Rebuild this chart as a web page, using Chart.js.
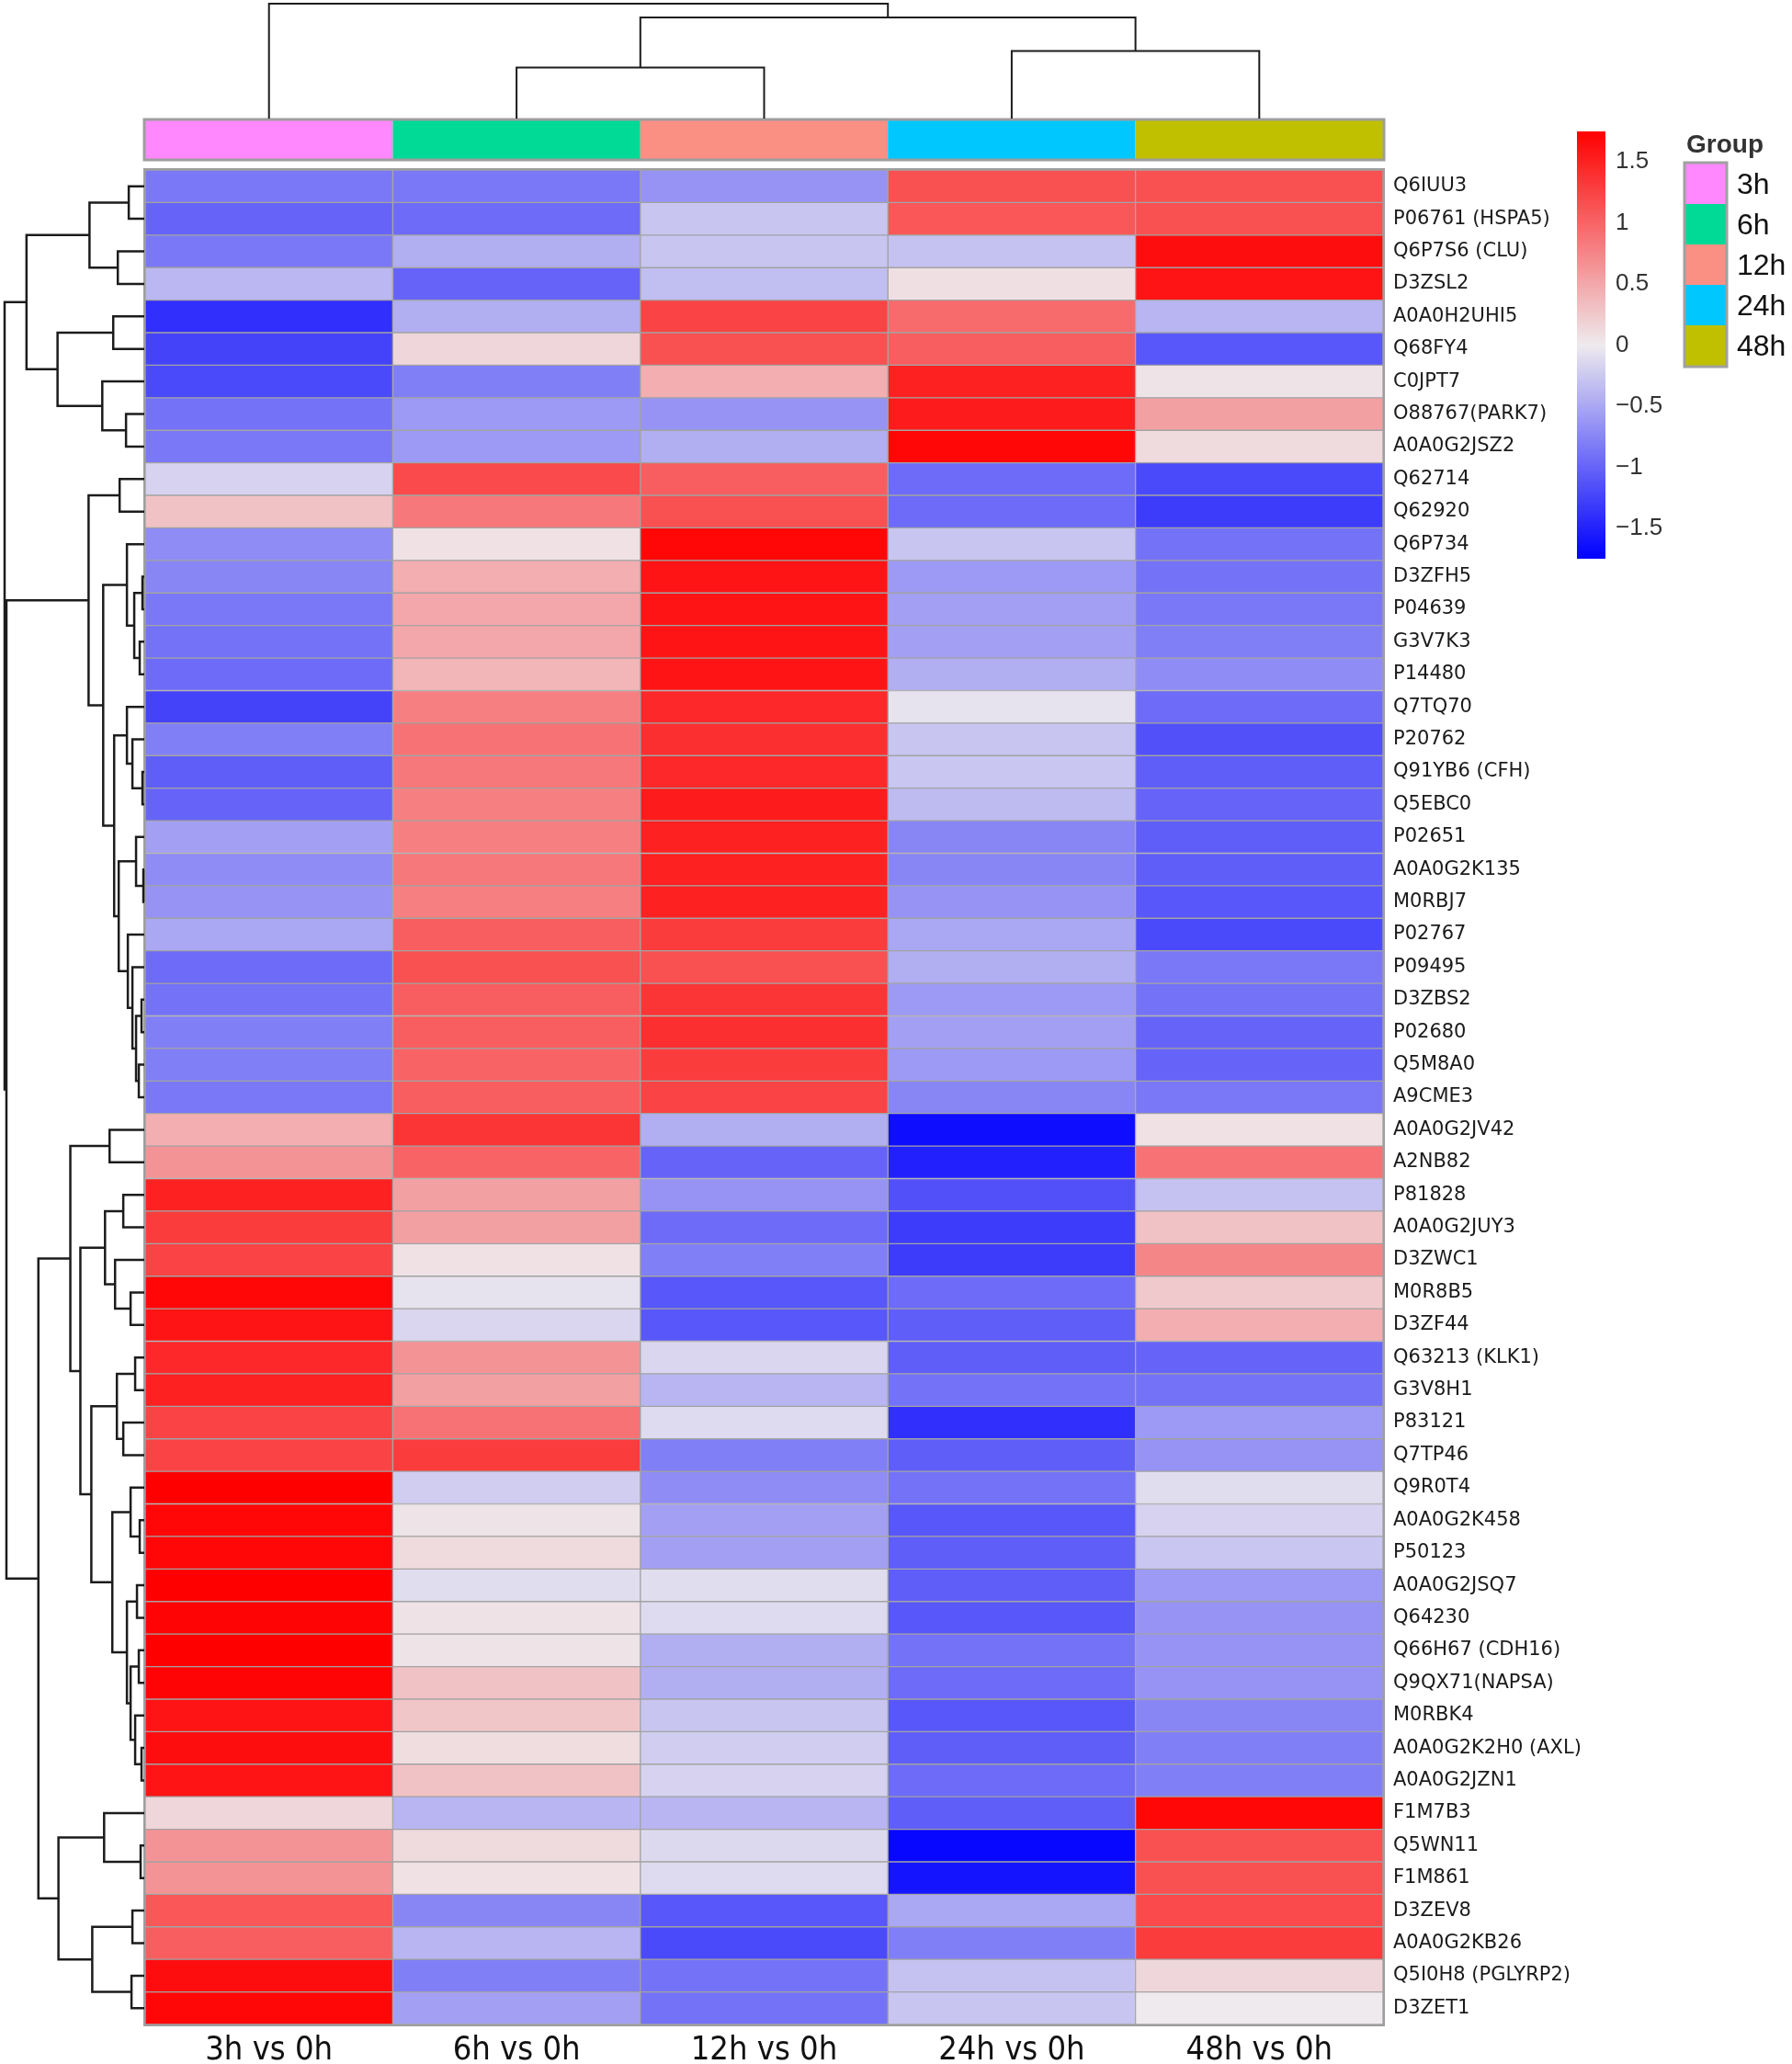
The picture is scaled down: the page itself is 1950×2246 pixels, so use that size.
<!DOCTYPE html>
<html>
<head>
<meta charset="utf-8">
<script src="https://cdn.jsdelivr.net/npm/chart.js@4.4.1/dist/chart.umd.min.js"></script>
<style>
  html, body { margin: 0; padding: 0; background: #fff; }
  #wrap { width: 1950px; height: 2246px; position: relative; }
</style>
</head>
<body>
<div id="wrap"><canvas id="heat"></canvas></div>
<script>
// proteins, in dendrogram order (top to bottom)
const rowLabels = ['Q6IUU3', 'P06761 (HSPA5)', 'Q6P7S6 (CLU)', 'D3ZSL2', 'A0A0H2UHI5', 'Q68FY4', 'C0JPT7',
    'O88767(PARK7)', 'A0A0G2JSZ2', 'Q62714', 'Q62920', 'Q6P734', 'D3ZFH5', 'P04639', 'G3V7K3', 'P14480',
    'Q7TQ70', 'P20762', 'Q91YB6 (CFH)', 'Q5EBC0', 'P02651', 'A0A0G2K135', 'M0RBJ7', 'P02767', 'P09495',
    'D3ZBS2', 'P02680', 'Q5M8A0', 'A9CME3', 'A0A0G2JV42', 'A2NB82', 'P81828', 'A0A0G2JUY3', 'D3ZWC1',
    'M0R8B5', 'D3ZF44', 'Q63213 (KLK1)', 'G3V8H1', 'P83121', 'Q7TP46', 'Q9R0T4', 'A0A0G2K458', 'P50123',
    'A0A0G2JSQ7', 'Q64230', 'Q66H67 (CDH16)', 'Q9QX71(NAPSA)', 'M0RBK4', 'A0A0G2K2H0 (AXL)', 'A0A0G2JZN1',
    'F1M7B3', 'Q5WN11', 'F1M861', 'D3ZEV8', 'A0A0G2KB26', 'Q5I0H8 (PGLYRP2)', 'D3ZET1'];

const colLabels = ['3h vs 0h', '6h vs 0h', '12h vs 0h', '24h vs 0h', '48h vs 0h'];
const groupNames = ['3h', '6h', '12h', '24h', '48h'];
const groupColors = ['#FF88FF', '#00DA96', '#FA8F84', '#00C8FF', '#C0C000'];

// scaled values per column
const h3 = [-0.85, -1.0, -0.85, -0.38, -1.4, -1.25, -1.2, -0.9, -0.85, -0.18,
    0.3, -0.7, -0.75, -0.85, -0.9, -0.95, -1.25, -0.8, -1.05, -1.0,
    -0.55, -0.7, -0.65, -0.5, -0.95, -0.9, -0.8, -0.8, -0.85, 0.45,
    0.65, 1.5, 1.3, 1.25, 1.7, 1.6, 1.45, 1.5, 1.25, 1.25,
    1.75, 1.7, 1.7, 1.75, 1.72, 1.75, 1.72, 1.6, 1.65, 1.6,
    0.15, 0.65, 0.65, 1.1, 1.05, 1.65, 1.7];
const h6 = [-0.85, -0.95, -0.45, -1.0, -0.45, 0.15, -0.8, -0.6, -0.6, 1.2,
    0.85, 0.07, 0.45, 0.5, 0.5, 0.4, 0.8, 0.9, 0.85, 0.8,
    0.8, 0.85, 0.8, 1.05, 1.15, 1.05, 1.05, 1.0, 1.05, 1.35,
    1.0, 0.55, 0.55, 0.07, -0.05, -0.15, 0.65, 0.55, 0.9, 1.3,
    -0.22, 0.05, 0.12, -0.1, 0.06, 0.05, 0.3, 0.27, 0.1, 0.3,
    -0.4, 0.12, 0.07, -0.75, -0.4, -0.8, -0.55];
const h12 = [-0.65, -0.28, -0.28, -0.33, 1.25, 1.15, 0.45, -0.65, -0.45, 1.05,
    1.15, 1.7, 1.6, 1.6, 1.6, 1.6, 1.45, 1.4, 1.45, 1.55,
    1.5, 1.5, 1.5, 1.3, 1.15, 1.35, 1.4, 1.3, 1.25, -0.45,
    -1.0, -0.65, -0.95, -0.8, -1.1, -1.1, -0.15, -0.4, -0.12, -0.8,
    -0.7, -0.55, -0.55, -0.1, -0.12, -0.45, -0.45, -0.28, -0.22, -0.18,
    -0.4, -0.13, -0.12, -1.1, -1.2, -0.9, -0.9];
const h24 = [1.15, 1.1, -0.3, 0.08, 0.95, 1.05, 1.5, 1.55, 1.7, -0.95,
    -0.95, -0.28, -0.6, -0.55, -0.55, -0.45, -0.05, -0.28, -0.27, -0.35,
    -0.75, -0.75, -0.65, -0.5, -0.45, -0.6, -0.55, -0.6, -0.75, -1.65,
    -1.5, -1.15, -1.3, -1.3, -0.95, -1.05, -1.05, -0.9, -1.4, -1.05,
    -0.9, -1.1, -1.05, -1.05, -1.1, -0.9, -0.95, -1.1, -1.05, -0.95,
    -1.05, -1.7, -1.6, -0.5, -0.8, -0.3, -0.28];
const h48 = [1.15, 1.15, 1.65, 1.6, -0.4, -1.1, 0.05, 0.55, 0.12, -1.2,
    -1.3, -0.9, -0.9, -0.85, -0.8, -0.7, -0.95, -1.15, -1.05, -1.0,
    -1.05, -1.05, -1.1, -1.2, -0.85, -0.9, -1.0, -1.0, -0.85, 0.07,
    0.9, -0.3, 0.3, 0.75, 0.25, 0.45, -1.0, -0.9, -0.6, -0.65,
    -0.1, -0.18, -0.27, -0.6, -0.65, -0.65, -0.65, -0.75, -0.8, -0.8,
    1.7, 1.15, 1.15, 1.2, 1.3, 0.15, 0.0];

// colour key
const keyMin = -1.75;
const keyMax = 1.75;
const keyTicks = [1.5, 1, 0.5, 0, -0.5, -1, -1.5];

// clustering trees: [height, left, right], a plain number is a leaf index
const rowTree = [153,
    [129, [60, [17, 0, 1], [29, 2, 3]], [95, [34, 4, 5], [46, 6, [20, 7, 8]]]],
    [151,
        [61, [27, 9, 10],
            [45, [19, 11, [11, [2, 12, 13], [5, 14, 15]]],
                [33, [19, 16, [13, 17, [2, 18, 19]]],
                    [28, [9, 20, [1, 21, 22]], [18, 23, [13, 24, [9, [3, 25, 26], [6, 27, 28]]]]]]]],
        [116,
            [81, [38, 29, 30],
                [70, [43, [23, 31, 32], [32, 33, [15, 34, 35]]],
                    [58, [30, [10, 36, 37], [23, 38, 39]],
                        [35, [15, 40, [5, 41, 42]], [19, [8, 43, 44], [15, [6, 45, 46], [10, 47, [3, 48, 49]]]]]]]],
            [94, [44, 50, [4, 51, 52]], [57, [13, 53, 54], [14, 55, 56]]]]]];
const colTree = [124, 0, [109, [55, 1, 2], [73, 3, 4]]];

function colorFor(v) {
    const t = Math.max(-1, Math.min(1, v / keyMax));
    const mid = [238, 234, 238];
    const end = t < 0 ? [0, 0, 255] : [255, 0, 0];
    const a = Math.abs(t);
    const c = mid.map((m, i) => Math.round(m + (end[i] - m) * a));
    return 'rgb(' + c.join(',') + ')';
}

// walks a tree, draws the elbows, returns position and height of the node
function drawTree(ctx, node, leafPos, heightPos, horizontal) {
    if (typeof node === 'number') {
        return { pos: leafPos(node), h: 0 };
    }
    const a = drawTree(ctx, node[1], leafPos, heightPos, horizontal);
    const b = drawTree(ctx, node[2], leafPos, heightPos, horizontal);
    const pts = [[heightPos(a.h), a.pos], [heightPos(node[0]), a.pos],
                 [heightPos(node[0]), b.pos], [heightPos(b.h), b.pos]];
    ctx.beginPath();
    pts.forEach((p, i) => {
        const x = horizontal ? p[0] : p[1];
        const y = horizontal ? p[1] : p[0];
        if (i === 0) ctx.moveTo(x, y); else ctx.lineTo(x, y);
    });
    ctx.stroke();
    return { pos: (a.pos + b.pos) / 2, h: node[0] };
}

const decor = {
    id: 'decor',
    afterDatasetsDraw(chart) {
        const ctx = chart.ctx;
        const area = chart.chartArea;
        const xs = chart.scales.x;
        const ys = chart.scales.y;
        ctx.save();

        // frame of the heatmap
        ctx.strokeStyle = '#9e9e9e';
        ctx.lineWidth = 2;
        ctx.strokeRect(area.left - 1, area.top - 1, area.right - area.left + 2, area.bottom - area.top + 2);

        // row dendrogram
        ctx.strokeStyle = '#1c1c1c';
        ctx.lineWidth = 2.5;
        ctx.lineJoin = 'miter';
        const rootLeft = 5;
        drawTree(ctx, rowTree, i => ys.getPixelForValue(i),
            h => area.left - 1 - h / rowTree[0] * (area.left - 1 - rootLeft), true);

        // group annotation bar
        const annTop = area.top - 54;
        const annBot = area.top - 12;
        groupColors.forEach((c, i) => {
            const x0 = xs.getPixelForValue(i);
            const x1 = xs.getPixelForValue(i + 1);
            ctx.fillStyle = c;
            ctx.fillRect(x0, annTop, x1 - x0, annBot - annTop);
        });
        ctx.strokeStyle = '#9e9e9e';
        ctx.lineWidth = 3;
        ctx.strokeRect(area.left - 1, annTop - 1, area.right - area.left + 2, annBot - annTop + 2);

        // column dendrogram
        ctx.strokeStyle = '#1c1c1c';
        ctx.lineWidth = 2;
        const topY = 4;
        drawTree(ctx, colTree, i => xs.getPixelForValue(i + 0.5),
            h => annTop - 2 - h / colTree[0] * (annTop - 2 - topY), false);

        // colour key
        const kx = 1716, kw = 31, kTop = 143, kBot = 608;
        const ky = v => kTop + (keyMax - v) / (keyMax - keyMin) * (kBot - kTop);
        for (let y = kTop; y < kBot; y++) {
            const v = keyMax - (y - kTop + 0.5) / (kBot - kTop) * (keyMax - keyMin);
            ctx.fillStyle = colorFor(v);
            ctx.fillRect(kx, y, kw, 1);
        }
        ctx.fillStyle = '#333';
        ctx.font = '26px "Liberation Sans", Arial, sans-serif';
        ctx.textAlign = 'left';
        ctx.textBaseline = 'middle';
        keyTicks.forEach(t => {
            const s = String(Math.abs(t));
            ctx.fillText((t < 0 ? '\u2212' : '') + s, kx + kw + 11, ky(t));
        });

        // group legend
        const gx = 1834, gTop = 178, gSize = 44;
        ctx.font = 'bold 28px "Liberation Sans", Arial, sans-serif';
        ctx.fillStyle = '#333';
        ctx.fillText('Group', gx + 1, 158);
        groupColors.forEach((c, i) => {
            ctx.fillStyle = c;
            ctx.fillRect(gx, gTop + i * gSize, gSize, gSize);
        });
        ctx.strokeStyle = '#a0a0a0';
        ctx.lineWidth = 3;
        ctx.strokeRect(gx - 1, gTop - 1, gSize + 2, gSize * groupColors.length + 2);
        ctx.fillStyle = '#111';
        ctx.font = '32px "Liberation Sans", Arial, sans-serif';
        groupNames.forEach((g, i) => {
            ctx.fillText(g, gx + gSize + 12, gTop + i * gSize + gSize / 2 + 2);
        });
        ctx.restore();
    }
};

const columns = [h3, h6, h12, h24, h48];

new Chart(document.getElementById('heat'), {
    type: 'bar',
    data: {
        labels: rowLabels,
        datasets: columns.map((vals, ci) => ({
            label: colLabels[ci],
            data: rowLabels.map(() => [ci, ci + 1]),
            backgroundColor: vals.map(colorFor),
            borderColor: '#a3a3a3',
            borderWidth: 1,
            borderSkipped: false,
            barPercentage: 1,
            categoryPercentage: 1,
            grouped: false
        }))
    },
    options: {
        indexAxis: 'y',
        responsive: true,
        maintainAspectRatio: false,
        animation: false,
        layout: { padding: { left: 158, top: 185, right: 0, bottom: 0 } },
        plugins: {
            legend: { display: false },
            tooltip: { enabled: false }
        },
        scales: {
            x: {
                type: 'linear',
                position: 'bottom',
                min: 0,
                max: 5,
                grid: { display: false, drawTicks: false },
                border: { display: false },
                afterBuildTicks: s => { s.ticks = colLabels.map((_, i) => ({ value: i + 0.5 })); },
                afterFit: s => { s.height = 43; },
                ticks: {
                    autoSkip: false,
                    maxRotation: 0,
                    padding: 7,
                    color: '#111',
                    font: { family: '"Liberation Sans Narrow", "DejaVu Sans Condensed", "Liberation Sans", sans-serif', size: 36 },
                    callback: (v, i) => colLabels[i]
                }
            },
            y: {
                type: 'category',
                position: 'right',
                grid: { display: false, drawTicks: false },
                border: { display: false },
                afterFit: s => { s.width = 445; },
                ticks: {
                    autoSkip: false,
                    padding: 11,
                    color: '#1a1a1a',
                    font: { family: '"DejaVu Sans", Verdana, sans-serif', size: 21 }
                }
            }
        }
    },
    plugins: [decor]
});
</script>
</body>
</html>
